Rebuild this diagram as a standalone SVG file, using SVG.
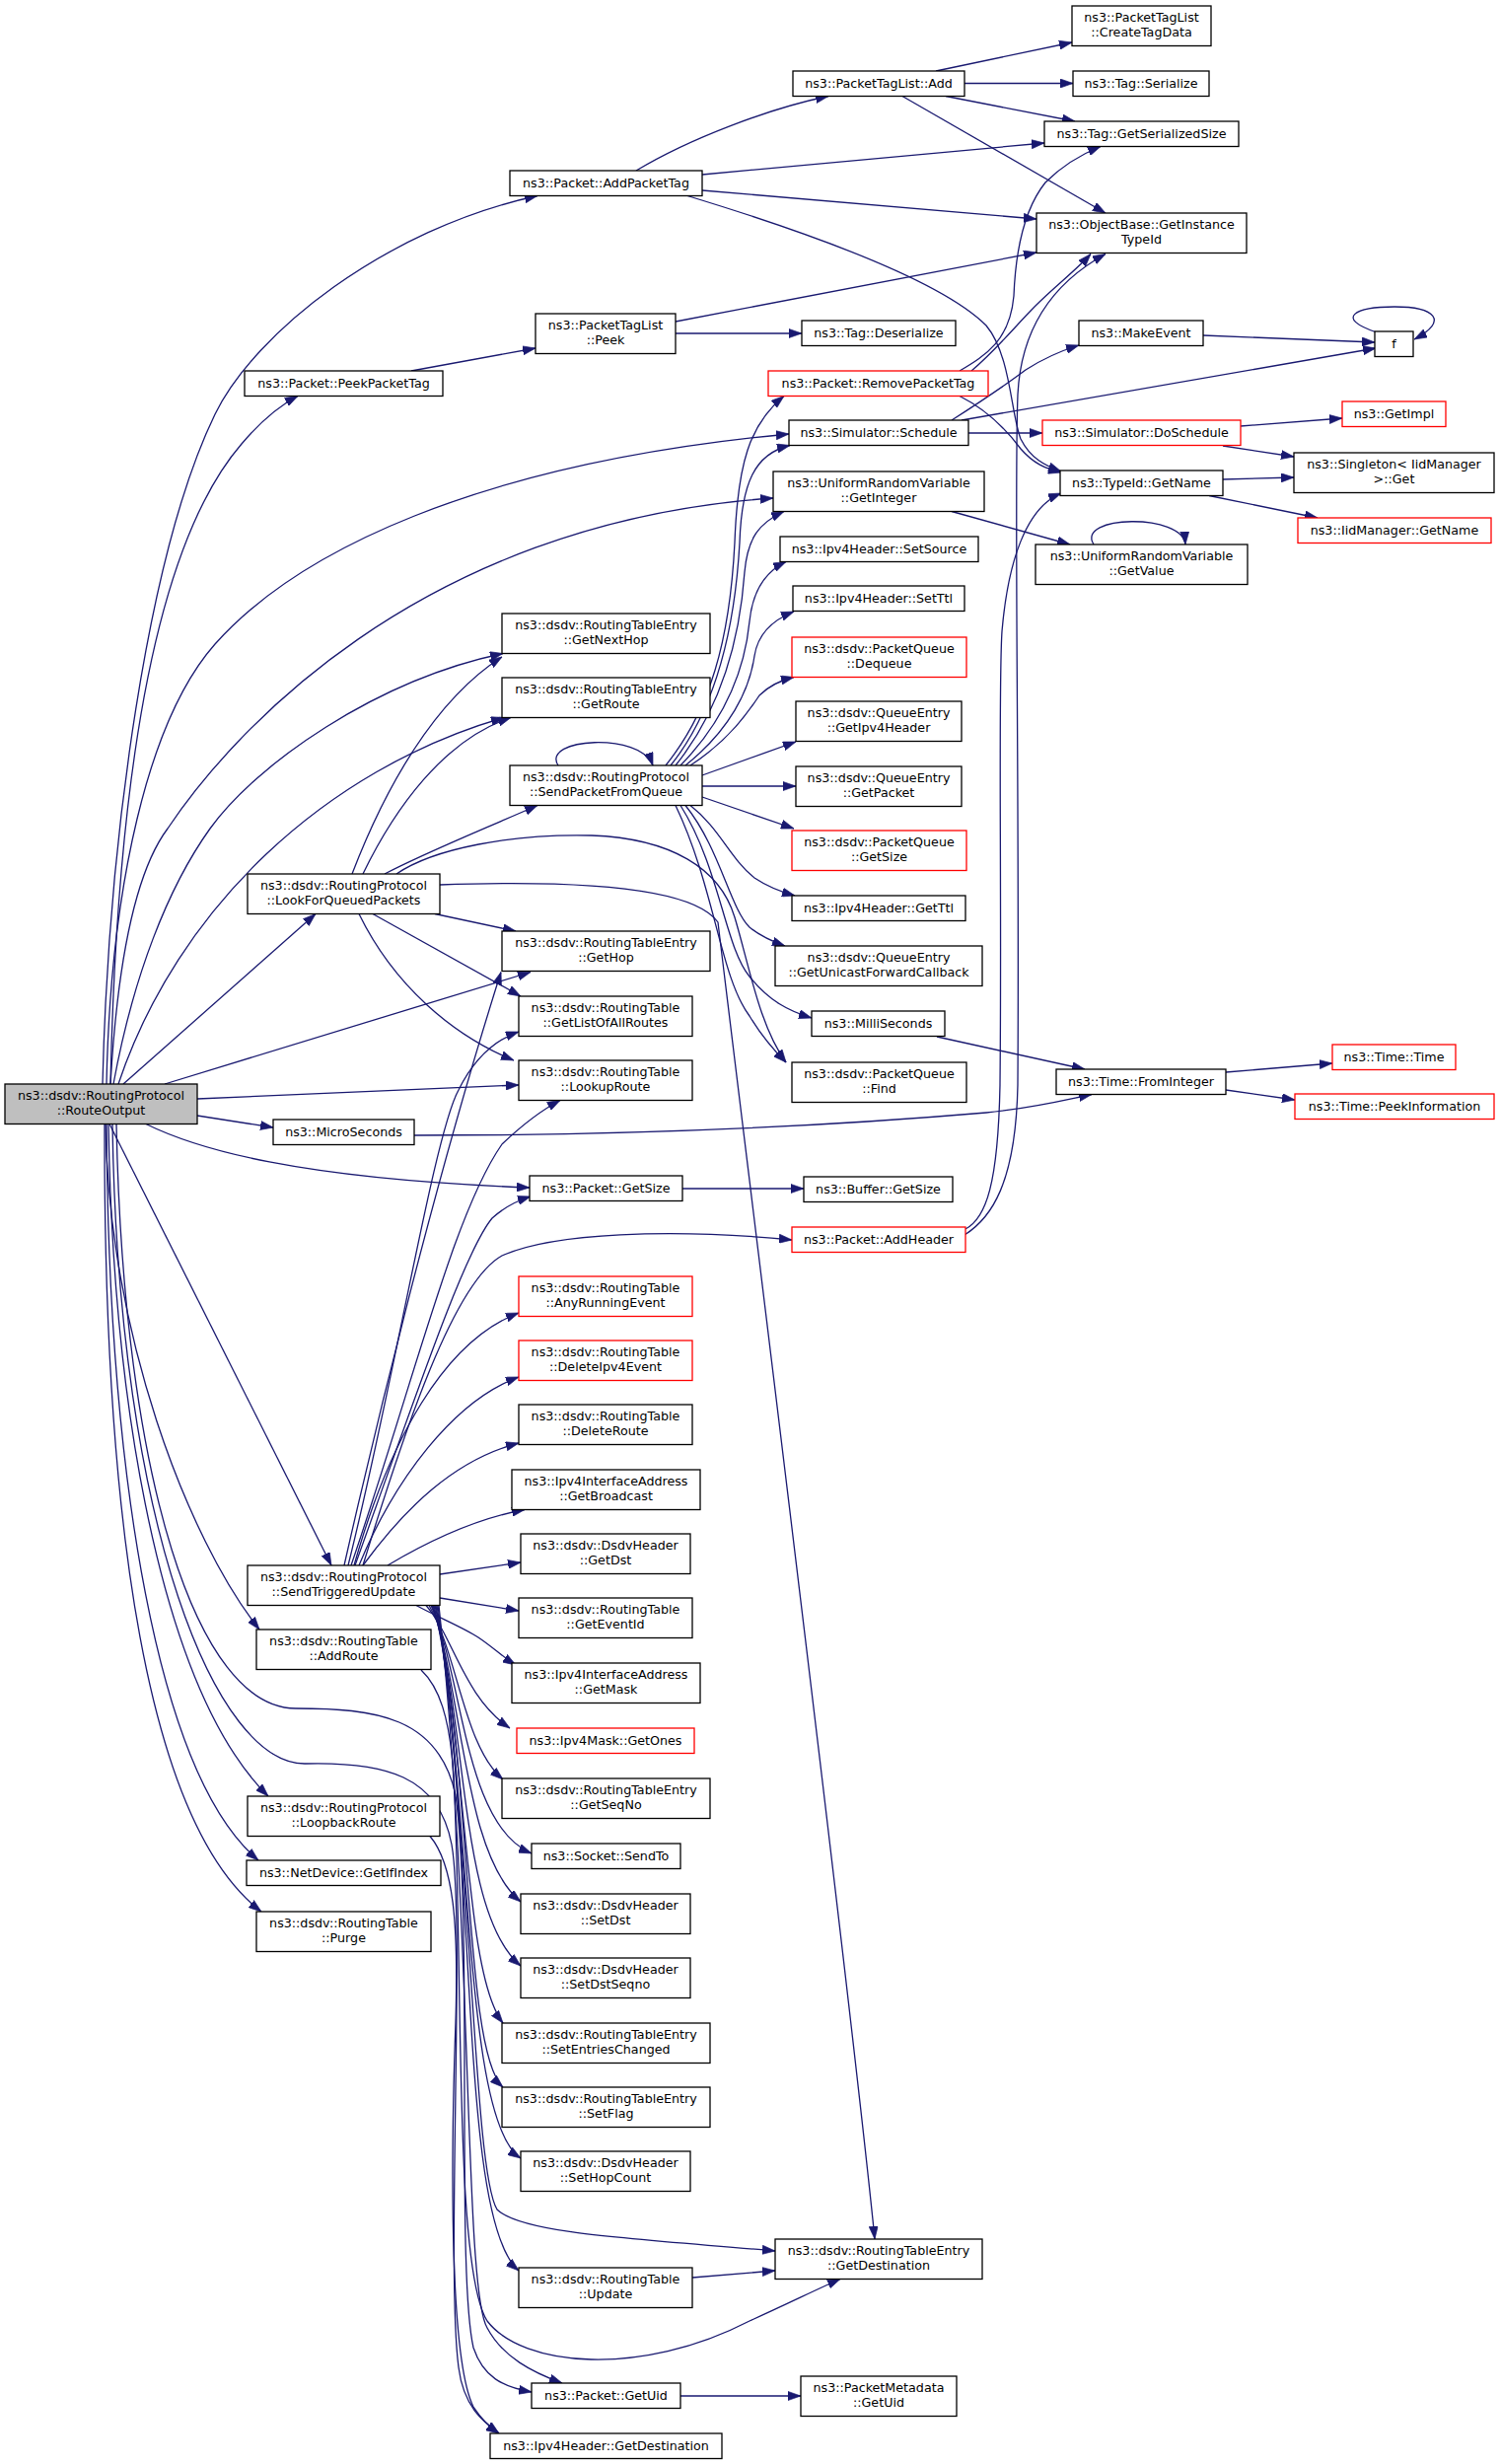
<svg xmlns="http://www.w3.org/2000/svg" width="1521" height="2498" viewBox="0 0 1521 2498">
<style>
.n rect{fill:#fff;stroke:#000;stroke-width:1.3}
.r rect{stroke:#ff0000}
.g rect{fill:#bfbfbf}
text{font-family:"DejaVu Sans","Liberation Sans",sans-serif;font-size:12.7px;text-anchor:middle;fill:#000}
.e path{fill:none;stroke:#191970;stroke-width:1.3;marker-end:url(#a)}
</style>
<defs>
<marker id="a" viewBox="0 0 10 7" refX="10" refY="3.5" markerUnits="userSpaceOnUse" markerWidth="13" markerHeight="9.4" orient="auto">
<path d="M0,0 L10,3.5 L0,7 z" fill="#191970" stroke="#191970" stroke-width="0.5"/>
</marker>
</defs>
<rect width="1521" height="2498" fill="#fff"/>
<g class="e" id="edges">
<path d="M104,1099 C110,850 150,560 218,420 C258,338 390,232 545,198.5"/>
<path d="M112,1099 C118,820 150,560 245,450 C262,430 280,413 302,401.5"/>
<path d="M108,1099 C112,900 150,730 218,653 C300,561 480,470 800,440"/>
<path d="M112,1099 C120,960 140,880 170,840 C230,750 420,530 784,505"/>
<path d="M115,1099 C135,990 170,900 213,840 C260,775 380,690 510,662.5"/>
<path d="M120,1099 C180,920 330,780 511,727.5"/>
<path d="M125,1099 L320,926.5"/>
<path d="M167,1099 L538,985.5"/>
<path d="M200,1114 L526,1100"/>
<path d="M200,1131 L277,1143"/>
<path d="M148,1139.5 C200,1165 300,1195 537,1204"/>
<path d="M111,1139.5 L336,1587"/>
<path d="M107,1139.5 C110,1350 190,1560 263,1652"/>
<path d="M110,1139.5 C115,1450 170,1720 272,1821"/>
<path d="M108,1139.5 C110,1500 160,1800 262,1886"/>
<path d="M106,1139.5 C105,1550 150,1850 265,1938"/>
<path d="M118,1139.5 C125,1500 200,1732 300,1732 C380,1732 445,1740 462,1820 C480,1950 462,2300 480,2380 C490,2410 510,2420 539,2425"/>
<path d="M114,1139.5 C120,1550 220,1790 310,1788 C390,1786 445,1800 458,1870 C472,1950 452,2300 465,2400 C470,2440 490,2455 506,2467"/>
<path d="M349,1587 C380,1450 440,1200 508,985.5"/>
<path d="M353,1587 C400,1400 440,1150 465,1105 C480,1075 500,1055 526,1046"/>
<path d="M356,1587 C420,1400 460,1230 509,1160 C530,1140 550,1125 568,1115.5"/>
<path d="M360,1587 C420,1420 470,1270 499,1235 C510,1225 522,1218 538,1213"/>
<path d="M368,1587 C410,1450 460,1300 509,1273 C560,1250 680,1245 803,1257"/>
<path d="M359,1587 C395,1460 450,1360 526,1331"/>
<path d="M364,1587 C400,1500 460,1420 526,1396"/>
<path d="M368,1587 C410,1530 460,1480 526,1463"/>
<path d="M393,1587 C430,1565 480,1540 532,1530.5"/>
<path d="M446,1596 L528,1584"/>
<path d="M446,1620 L526,1633"/>
<path d="M422,1627.5 C445,1640 470,1650 485,1660 C500,1670 510,1680 523,1688"/>
<path d="M432,1627.5 C460,1660 470,1720 517,1752"/>
<path d="M435,1627.5 C465,1680 470,1770 510,1804"/>
<path d="M437,1627.5 C470,1700 470,1850 539,1879"/>
<path d="M438,1627.5 C470,1720 470,1880 528,1928"/>
<path d="M439,1627.5 C475,1750 465,1940 528,1993"/>
<path d="M440,1627.5 C475,1780 470,2000 510,2051"/>
<path d="M441,1627.5 C480,1800 470,2080 510,2116"/>
<path d="M442,1627.5 C480,1850 470,2150 528,2188"/>
<path d="M443,1627.5 C485,1900 465,2250 526,2302"/>
<path d="M444,1627.5 C480,1900 480,2200 504,2240 C530,2265 650,2270 786,2282"/>
<path d="M445,1627.5 C480,1950 470,2320 494,2360 C510,2390 540,2405 570,2416"/>
<path d="M427,1693 C445,1710 456,1740 460,1800 C470,2000 460,2300 494,2353 C530,2400 650,2410 760,2353 C800,2335 830,2320 852,2310.5"/>
<path d="M436,1861.5 C460,1890 465,1950 462,2050 C455,2250 460,2400 480,2440 C488,2452 495,2460 506,2467"/>
<path d="M357,886 C390,800 440,710 509,666"/>
<path d="M368,886 C400,820 450,750 518,727.5"/>
<path d="M390,886 C430,865 480,845 545,816.5"/>
<path d="M402,886 C440,860 520,845 600,847 C680,850 730,880 745,930 C760,980 770,1040 797,1077"/>
<path d="M446,897 C560,893 700,895 728,935 C760,1200 860,2000 887,2270"/>
<path d="M441,926.5 L523,944"/>
<path d="M378,926.5 L528,1010"/>
<path d="M364,926.5 C400,1000 460,1050 521,1075"/>
<path d="M566,776 C548,748 650,742 662,776"/>
<path d="M675,776 C720,720 740,650 745,550 C748,470 760,430 795,401.5"/>
<path d="M680,776 C725,720 745,640 750,550 C752,490 765,460 801,451.5"/>
<path d="M685,776 C730,720 750,650 755,580 C758,545 770,530 795,518.5"/>
<path d="M690,776 C735,730 755,680 760,630 C763,600 775,580 797,569.5"/>
<path d="M695,776 C740,740 760,700 765,665 C768,645 780,630 805,620"/>
<path d="M700,776 C740,750 760,720 770,705 C780,695 790,690 805,686.5"/>
<path d="M712,786 L807,752"/>
<path d="M712,797 L807,797"/>
<path d="M712,808 L805,840"/>
<path d="M700,816.5 C730,840 740,870 765,890 C780,900 795,905 806,908"/>
<path d="M695,816.5 C730,860 740,920 760,940 C772,950 785,955 796,959"/>
<path d="M690,816.5 C730,880 735,960 760,990 C780,1015 800,1025 823,1032"/>
<path d="M685,816.5 C725,900 730,990 760,1030 C772,1050 785,1065 797,1077"/>
<path d="M645,173 C700,140 780,110 840,97.5"/>
<path d="M712,177 L1059,145"/>
<path d="M712,193 L1051,222"/>
<path d="M697,198.5 C850,245 960,290 1000,330 C1025,360 1025,420 1035,445 C1045,465 1060,472 1076,478"/>
<path d="M973,401.5 C1000,415 1020,435 1035,455 C1048,470 1060,475 1076,479"/>
<path d="M985,376 C1010,355 1030,330 1050,310 C1070,290 1090,275 1106,257.5"/>
<path d="M973,376 C1000,360 1024,345 1028,300 C1030,250 1040,210 1060,185 C1080,165 1100,155 1116,148.5"/>
<path d="M979,1246 C1000,1235 1012,1200 1014,1100 C1016,900 1012,700 1016,640 C1022,570 1040,515 1076,500"/>
<path d="M978,1252 C1005,1235 1030,1200 1032,1100 C1034,800 1028,500 1032,400 C1036,320 1080,280 1121,257.5"/>
<path d="M949,72 L1087,43"/>
<path d="M978,84.5 L1088,84.5"/>
<path d="M959,97.5 L1090,123"/>
<path d="M915,97.5 L1121,216"/>
<path d="M685,326 L1051,256"/>
<path d="M685,338 L813,338"/>
<path d="M417,376 L543,353"/>
<path d="M965,426 C990,410 1020,390 1040,375 C1060,362 1078,355 1094,350"/>
<path d="M975,426 L1395,353"/>
<path d="M982,439 L1057,439"/>
<path d="M1220,340 L1394,347"/>
<path d="M1396,337 C1352,322 1375,311 1414,311 C1455,311 1470,325 1434,344"/>
<path d="M1258,432 L1361,424"/>
<path d="M1240,452 L1312,463"/>
<path d="M1240,486 L1312,484"/>
<path d="M1226,502.5 L1336,525"/>
<path d="M965,518.5 L1085,552"/>
<path d="M1109,552 C1090,522 1200,520 1202,552"/>
<path d="M950,1051 L1100,1084"/>
<path d="M420,1151 C600,1151 800,1145 1000,1128 C1050,1123 1080,1115 1107,1109.5"/>
<path d="M1243,1087 L1351,1078"/>
<path d="M1243,1105 L1313,1115"/>
<path d="M692,1205 L815,1205"/>
<path d="M689,2429 L812,2429"/>
<path d="M702,2309 L786,2302"/>
</g>
<g class="n g" id="n_RouteOutput"><rect x="5" y="1099" width="195" height="40.5"/><text x="102.5" y="1115">ns3::dsdv::RoutingProtocol</text><text x="102.5" y="1130">::RouteOutput</text></g>
<g class="n" id="n_AddPacketTag"><rect x="517" y="173" width="195" height="25.5"/><text x="614.5" y="189.5">ns3::Packet::AddPacketTag</text></g>
<g class="n" id="n_Peek"><rect x="543" y="318" width="142" height="40.5"/><text x="614" y="334">ns3::PacketTagList</text><text x="614" y="349">::Peek</text></g>
<g class="n" id="n_PeekPacketTag"><rect x="248" y="376" width="201" height="25.5"/><text x="348.5" y="392.5">ns3::Packet::PeekPacketTag</text></g>
<g class="n" id="n_CreateTagData"><rect x="1087" y="6" width="141" height="40.5"/><text x="1157.5" y="22">ns3::PacketTagList</text><text x="1157.5" y="37">::CreateTagData</text></g>
<g class="n" id="n_Add"><rect x="804" y="72" width="174" height="25.5"/><text x="891" y="88.5">ns3::PacketTagList::Add</text></g>
<g class="n" id="n_Serialize"><rect x="1088" y="72" width="138" height="25.5"/><text x="1157" y="88.5">ns3::Tag::Serialize</text></g>
<g class="n" id="n_GetSerializedSize"><rect x="1059" y="123" width="197" height="25.5"/><text x="1157.5" y="139.5">ns3::Tag::GetSerializedSize</text></g>
<g class="n" id="n_GetInstanceTypeId"><rect x="1051" y="216" width="213" height="40.5"/><text x="1157.5" y="232">ns3::ObjectBase::GetInstance</text><text x="1157.5" y="247">TypeId</text></g>
<g class="n" id="n_Deserialize"><rect x="813" y="325" width="156" height="25.5"/><text x="891" y="341.5">ns3::Tag::Deserialize</text></g>
<g class="n" id="n_MakeEvent"><rect x="1094" y="325" width="126" height="25.5"/><text x="1157" y="341.5">ns3::MakeEvent</text></g>
<g class="n" id="n_f"><rect x="1394" y="336" width="39" height="25.5"/><text x="1413.5" y="352.5">f</text></g>
<g class="n r" id="n_RemovePacketTag"><rect x="779" y="376" width="223" height="25.5"/><text x="890.5" y="392.5">ns3::Packet::RemovePacketTag</text></g>
<g class="n r" id="n_GetImpl"><rect x="1361" y="407" width="105" height="25.5"/><text x="1413.5" y="423.5">ns3::GetImpl</text></g>
<g class="n" id="n_Schedule"><rect x="800" y="426" width="182" height="25.5"/><text x="891" y="442.5">ns3::Simulator::Schedule</text></g>
<g class="n r" id="n_DoSchedule"><rect x="1057" y="426" width="201" height="25.5"/><text x="1157.5" y="442.5">ns3::Simulator::DoSchedule</text></g>
<g class="n" id="n_SingletonGet"><rect x="1312" y="459" width="203" height="40.5"/><text x="1413.5" y="475">ns3::Singleton&lt; IidManager</text><text x="1413.5" y="490">&gt;::Get</text></g>
<g class="n" id="n_TypeIdGetName"><rect x="1075" y="477" width="165" height="25.5"/><text x="1157.5" y="493.5">ns3::TypeId::GetName</text></g>
<g class="n" id="n_GetInteger"><rect x="784" y="478" width="214" height="40.5"/><text x="891" y="494">ns3::UniformRandomVariable</text><text x="891" y="509">::GetInteger</text></g>
<g class="n r" id="n_IidGetName"><rect x="1316" y="525" width="196" height="25.5"/><text x="1414" y="541.5">ns3::IidManager::GetName</text></g>
<g class="n" id="n_GetValue"><rect x="1050" y="552" width="215" height="40.5"/><text x="1157.5" y="568">ns3::UniformRandomVariable</text><text x="1157.5" y="583">::GetValue</text></g>
<g class="n" id="n_SetSource"><rect x="791" y="544" width="201" height="25.5"/><text x="891.5" y="560.5">ns3::Ipv4Header::SetSource</text></g>
<g class="n" id="n_SetTtl"><rect x="804" y="594" width="174" height="25.5"/><text x="891" y="610.5">ns3::Ipv4Header::SetTtl</text></g>
<g class="n r" id="n_Dequeue"><rect x="803" y="646" width="177" height="40.5"/><text x="891.5" y="662">ns3::dsdv::PacketQueue</text><text x="891.5" y="677">::Dequeue</text></g>
<g class="n" id="n_GetIpv4Header"><rect x="807" y="711" width="168" height="40.5"/><text x="891" y="727">ns3::dsdv::QueueEntry</text><text x="891" y="742">::GetIpv4Header</text></g>
<g class="n" id="n_GetPacket"><rect x="807" y="777" width="168" height="40.5"/><text x="891" y="793">ns3::dsdv::QueueEntry</text><text x="891" y="808">::GetPacket</text></g>
<g class="n r" id="n_PQGetSize"><rect x="803" y="842" width="177" height="40.5"/><text x="891.5" y="858">ns3::dsdv::PacketQueue</text><text x="891.5" y="873">::GetSize</text></g>
<g class="n" id="n_GetTtl"><rect x="803" y="908" width="176" height="25.5"/><text x="891" y="924.5">ns3::Ipv4Header::GetTtl</text></g>
<g class="n" id="n_GUF"><rect x="786" y="959" width="210" height="40.5"/><text x="891" y="975">ns3::dsdv::QueueEntry</text><text x="891" y="990">::GetUnicastForwardCallback</text></g>
<g class="n" id="n_MilliSeconds"><rect x="823" y="1025" width="135" height="25.5"/><text x="890.5" y="1041.5">ns3::MilliSeconds</text></g>
<g class="n" id="n_Find"><rect x="803" y="1077" width="177" height="40.5"/><text x="891.5" y="1093">ns3::dsdv::PacketQueue</text><text x="891.5" y="1108">::Find</text></g>
<g class="n" id="n_FromInteger"><rect x="1071" y="1084" width="172" height="25.5"/><text x="1157" y="1100.5">ns3::Time::FromInteger</text></g>
<g class="n r" id="n_TimeTime"><rect x="1351" y="1059" width="125" height="25.5"/><text x="1413.5" y="1075.5">ns3::Time::Time</text></g>
<g class="n r" id="n_PeekInformation"><rect x="1313" y="1109" width="202" height="25.5"/><text x="1414" y="1125.5">ns3::Time::PeekInformation</text></g>
<g class="n" id="n_BufferGetSize"><rect x="815" y="1193" width="151" height="25.5"/><text x="890.5" y="1209.5">ns3::Buffer::GetSize</text></g>
<g class="n r" id="n_AddHeader"><rect x="803" y="1244" width="176" height="25.5"/><text x="891" y="1260.5">ns3::Packet::AddHeader</text></g>
<g class="n" id="n_GetNextHop"><rect x="509" y="622" width="211" height="40.5"/><text x="614.5" y="638">ns3::dsdv::RoutingTableEntry</text><text x="614.5" y="653">::GetNextHop</text></g>
<g class="n" id="n_GetRoute"><rect x="509" y="687" width="211" height="40.5"/><text x="614.5" y="703">ns3::dsdv::RoutingTableEntry</text><text x="614.5" y="718">::GetRoute</text></g>
<g class="n" id="n_SendPacketFromQueue"><rect x="517" y="776" width="195" height="40.5"/><text x="614.5" y="792">ns3::dsdv::RoutingProtocol</text><text x="614.5" y="807">::SendPacketFromQueue</text></g>
<g class="n" id="n_LookForQueuedPackets"><rect x="251" y="886" width="195" height="40.5"/><text x="348.5" y="902">ns3::dsdv::RoutingProtocol</text><text x="348.5" y="917">::LookForQueuedPackets</text></g>
<g class="n" id="n_GetHop"><rect x="509" y="944" width="211" height="40.5"/><text x="614.5" y="960">ns3::dsdv::RoutingTableEntry</text><text x="614.5" y="975">::GetHop</text></g>
<g class="n" id="n_GetListOfAllRoutes"><rect x="526" y="1010" width="176" height="40.5"/><text x="614" y="1026">ns3::dsdv::RoutingTable</text><text x="614" y="1041">::GetListOfAllRoutes</text></g>
<g class="n" id="n_LookupRoute"><rect x="526" y="1075" width="176" height="40.5"/><text x="614" y="1091">ns3::dsdv::RoutingTable</text><text x="614" y="1106">::LookupRoute</text></g>
<g class="n" id="n_MicroSeconds"><rect x="277" y="1135" width="143" height="25.5"/><text x="348.5" y="1151.5">ns3::MicroSeconds</text></g>
<g class="n" id="n_PacketGetSize"><rect x="537" y="1192" width="155" height="25.5"/><text x="614.5" y="1208.5">ns3::Packet::GetSize</text></g>
<g class="n r" id="n_AnyRunningEvent"><rect x="526" y="1294" width="176" height="40.5"/><text x="614" y="1310">ns3::dsdv::RoutingTable</text><text x="614" y="1325">::AnyRunningEvent</text></g>
<g class="n r" id="n_DeleteIpv4Event"><rect x="526" y="1359" width="176" height="40.5"/><text x="614" y="1375">ns3::dsdv::RoutingTable</text><text x="614" y="1390">::DeleteIpv4Event</text></g>
<g class="n" id="n_DeleteRoute"><rect x="526" y="1424" width="176" height="40.5"/><text x="614" y="1440">ns3::dsdv::RoutingTable</text><text x="614" y="1455">::DeleteRoute</text></g>
<g class="n" id="n_GetBroadcast"><rect x="519" y="1490" width="191" height="40.5"/><text x="614.5" y="1506">ns3::Ipv4InterfaceAddress</text><text x="614.5" y="1521">::GetBroadcast</text></g>
<g class="n" id="n_GetDst"><rect x="528" y="1555" width="172" height="40.5"/><text x="614" y="1571">ns3::dsdv::DsdvHeader</text><text x="614" y="1586">::GetDst</text></g>
<g class="n" id="n_SendTriggeredUpdate"><rect x="251" y="1587" width="195" height="40.5"/><text x="348.5" y="1603">ns3::dsdv::RoutingProtocol</text><text x="348.5" y="1618">::SendTriggeredUpdate</text></g>
<g class="n" id="n_GetEventId"><rect x="526" y="1620" width="176" height="40.5"/><text x="614" y="1636">ns3::dsdv::RoutingTable</text><text x="614" y="1651">::GetEventId</text></g>
<g class="n" id="n_AddRoute"><rect x="260" y="1652" width="177" height="40.5"/><text x="348.5" y="1668">ns3::dsdv::RoutingTable</text><text x="348.5" y="1683">::AddRoute</text></g>
<g class="n" id="n_GetMask"><rect x="519" y="1686" width="191" height="40.5"/><text x="614.5" y="1702">ns3::Ipv4InterfaceAddress</text><text x="614.5" y="1717">::GetMask</text></g>
<g class="n r" id="n_GetOnes"><rect x="524" y="1752" width="180" height="25.5"/><text x="614" y="1768.5">ns3::Ipv4Mask::GetOnes</text></g>
<g class="n" id="n_GetSeqNo"><rect x="509" y="1803" width="211" height="40.5"/><text x="614.5" y="1819">ns3::dsdv::RoutingTableEntry</text><text x="614.5" y="1834">::GetSeqNo</text></g>
<g class="n" id="n_LoopbackRoute"><rect x="251" y="1821" width="195" height="40.5"/><text x="348.5" y="1837">ns3::dsdv::RoutingProtocol</text><text x="348.5" y="1852">::LoopbackRoute</text></g>
<g class="n" id="n_SendTo"><rect x="539" y="1869" width="151" height="25.5"/><text x="614.5" y="1885.5">ns3::Socket::SendTo</text></g>
<g class="n" id="n_GetIfIndex"><rect x="250" y="1886" width="197" height="25.5"/><text x="348.5" y="1902.5">ns3::NetDevice::GetIfIndex</text></g>
<g class="n" id="n_SetDst"><rect x="528" y="1920" width="172" height="40.5"/><text x="614" y="1936">ns3::dsdv::DsdvHeader</text><text x="614" y="1951">::SetDst</text></g>
<g class="n" id="n_Purge"><rect x="260" y="1938" width="177" height="40.5"/><text x="348.5" y="1954">ns3::dsdv::RoutingTable</text><text x="348.5" y="1969">::Purge</text></g>
<g class="n" id="n_SetDstSeqno"><rect x="528" y="1985" width="172" height="40.5"/><text x="614" y="2001">ns3::dsdv::DsdvHeader</text><text x="614" y="2016">::SetDstSeqno</text></g>
<g class="n" id="n_SetEntriesChanged"><rect x="509" y="2051" width="211" height="40.5"/><text x="614.5" y="2067">ns3::dsdv::RoutingTableEntry</text><text x="614.5" y="2082">::SetEntriesChanged</text></g>
<g class="n" id="n_SetFlag"><rect x="509" y="2116" width="211" height="40.5"/><text x="614.5" y="2132">ns3::dsdv::RoutingTableEntry</text><text x="614.5" y="2147">::SetFlag</text></g>
<g class="n" id="n_SetHopCount"><rect x="528" y="2181" width="172" height="40.5"/><text x="614" y="2197">ns3::dsdv::DsdvHeader</text><text x="614" y="2212">::SetHopCount</text></g>
<g class="n" id="n_Update"><rect x="526" y="2299" width="176" height="40.5"/><text x="614" y="2315">ns3::dsdv::RoutingTable</text><text x="614" y="2330">::Update</text></g>
<g class="n" id="n_PacketGetUid"><rect x="539" y="2416" width="151" height="25.5"/><text x="614.5" y="2432.5">ns3::Packet::GetUid</text></g>
<g class="n" id="n_Ipv4GetDestination"><rect x="497" y="2467" width="235" height="25.5"/><text x="614.5" y="2483.5">ns3::Ipv4Header::GetDestination</text></g>
<g class="n" id="n_RTEGetDestination"><rect x="786" y="2270" width="210" height="40.5"/><text x="891" y="2286">ns3::dsdv::RoutingTableEntry</text><text x="891" y="2301">::GetDestination</text></g>
<g class="n" id="n_PacketMetadataGetUid"><rect x="812" y="2409" width="158" height="40.5"/><text x="891" y="2425">ns3::PacketMetadata</text><text x="891" y="2440">::GetUid</text></g>
</svg>
